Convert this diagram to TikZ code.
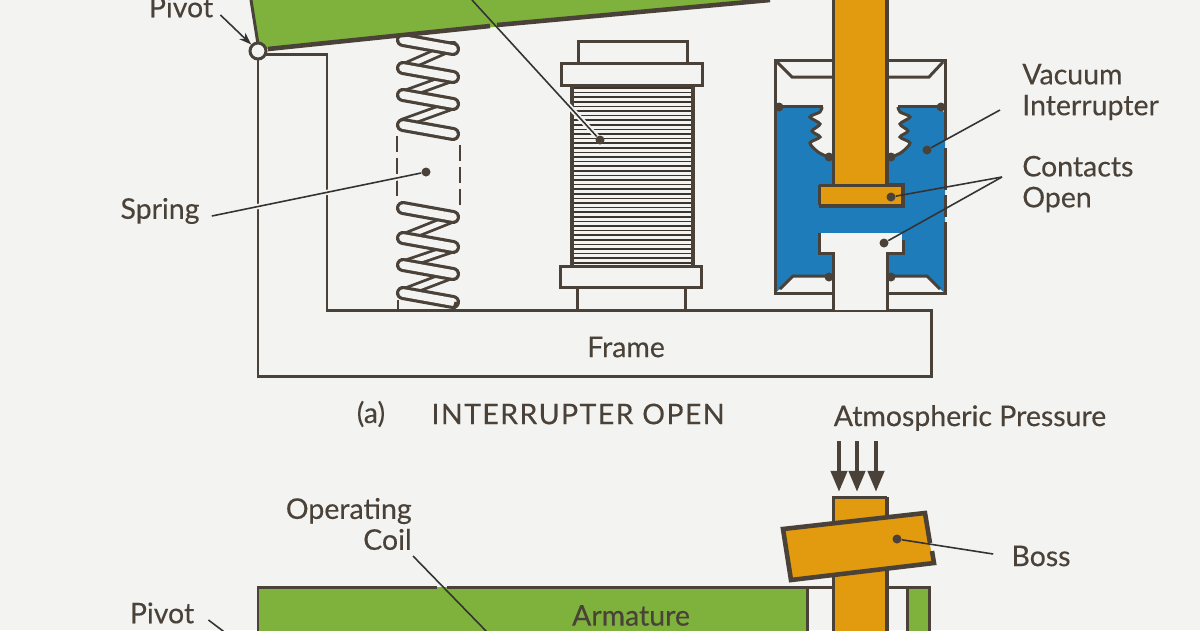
\documentclass[tikz,border=0pt]{standalone}
\usepackage{fontspec}
\setmainfont[FakeBold=0.3]{Lato}
\usetikzlibrary{arrows.meta,calc}

\definecolor{paperc}{HTML}{F3F3F1}
\definecolor{inkc}{HTML}{4A4238}
\definecolor{armgreen}{HTML}{7FB23C}
\definecolor{rodorange}{HTML}{E29A0E}
\definecolor{vacblue}{HTML}{1F7CBA}

\tikzset{
  part/.style={draw=inkc, line width=1.7pt, line join=miter},
  thickpart/.style={draw=inkc, line width=2.6pt},
  leader/.style={draw=black!80, line width=0.9pt},
  halo/.style={draw=paperc, line width=3pt},
  labeltext/.style={text=inkc, inner sep=0pt, font=\fontsize{16.2}{17.6}\selectfont},
  leaderdot/.style={circle, fill=inkc, inner sep=0pt, minimum size=0.18cm},
  wireout/.style={draw=inkc, line width=8pt, line cap=round},
  wirein/.style={draw=paperc, line width=4.4pt, line cap=round},
  backout/.style={draw=inkc, line width=6pt, line cap=round},
  backin/.style={draw=paperc, line width=2.8pt, line cap=round},
}

\begin{document}
\begin{tikzpicture}[x=0.02cm, y=-0.02cm]

\clip (0,0) rectangle (1200,630);
\fill[paperc] (0,0) rectangle (1200,630);

% ================= (a): FRAME =================
\draw[part] (258,51) -- (258,376) -- (931,376) -- (931,310) -- (327,310) -- (327,54) -- (266,54);
\node[labeltext] (lblFrame) at (626,347) {Frame};

% ================= (a): SPRING =================
\begin{scope}
\clip (385,25) rectangle (470,309);
% back strands
\foreach \ya/\yb in {46/68, 77/95, 105/123, 218/238, 248/265, 274/293} {
  \draw[backout] (453,\ya) -- (403,\yb);
  \draw[backin] (453,\ya) -- (403,\yb);
}
% front coils
\foreach \y in {40,68,95,125,208,238,265,293} {
  \draw[wireout] (403,\y) -- (453,\y+9);
  \draw[wirein] (403,\y) -- (453,\y+9);
}
\draw[part] (398,300) -- (398,309);
\draw[part] (456,302) -- (454,309);
\end{scope}
\draw[part, dashed, dash pattern=on 9pt off 3.5pt] (397,136) -- (397,200);
\draw[part, dashed, dash pattern=on 9pt off 3.5pt] (460,145) -- (460,210);

% ================= (a): COIL =================
\draw[part] (578,62) -- (578,41) -- (687,41) -- (687,62);
\draw[part] (561,63) rectangle (702,85);
\foreach \y in {88,92.6,...,264}
  \draw[draw=inkc!80!black, line width=1pt] (571,\y) -- (694,\y);
\draw[thickpart] (572,85) -- (572,266);
\draw[thickpart] (693,85) -- (693,266);
\draw[part] (560,266) rectangle (701,287);
\draw[part] (577,287) -- (577,310);
\draw[part] (685,287) -- (685,310);

% leader halo goes under the armature
\coordinate (coilTop) at (472,0);
\node[leaderdot] (dotCoil) at (600,140) {};
\draw[halo] (coilTop) -- (dotCoil);

% ================= (a): ARMATURE =================
\fill[armgreen] (251,0) -- (258,46) -- (268,49) -- (770,0) -- cycle;
\draw[part] (251,0) -- (258,44);
\draw[thickpart] (268,49) -- (490,26);
\draw[thickpart] (497,25) -- (770,0);
\draw[leader] (coilTop) -- (dotCoil);

\node[circle, draw=inkc, line width=1.7pt, fill=paperc, inner sep=0pt, minimum size=0.32cm] (pivotA) at (258,51) {};
\node[labeltext] (lblPivotA) at (181,7) {Pivot};
\draw[leader, -{Stealth[length=7pt,width=5pt]}] ([shift={(7,8)}]lblPivotA.east) -- (pivotA);

% ================= (a): INTERRUPTER =================
\fill[vacblue] (775,113) -- (783,106) -- (937,106) -- (945,113) -- (945,293) -- (940,289) -- (927,276)
  -- (793,276) -- (780,289) -- (775,293) -- cycle;

% bellows gaps
\fill[paperc] plot[smooth] coordinates {(822,105) (820,112) (810,117) (820,124) (812,131) (820,137) (810,143) (818,152) (826,156)}
  -- (833,160) -- (833,104) -- cycle;
\fill[paperc] plot[smooth] coordinates {(898,105) (900,112) (910,117) (900,124) (908,131) (900,137) (910,143) (902,152) (894,156)}
  -- (887,160) -- (887,104) -- cycle;
\draw[part] plot[smooth] coordinates {(822,107) (820,112) (810,117) (820,124) (812,131) (820,137) (810,143) (818,152) (826,156)};
\draw[part] plot[smooth] coordinates {(898,107) (900,112) (910,117) (900,124) (908,131) (900,137) (910,143) (902,152) (894,156)};
\draw[part] (783,106) -- (823,106);
\draw[part] (898,106) -- (937,106);

% joints
\foreach \x/\y in {779/107, 941/107, 829/157, 891/157, 829/277, 891/277}
  \fill[inkc] (\x,\y) circle (4.5);

% shell
\draw[part] (833,60) -- (775,60) -- (775,293) -- (833,293);
\draw[part] (887,60) -- (945,60) -- (945,140);
\draw[part] (945,148) -- (945,190);
\draw[part] (945,195) -- (945,217);
\draw[part] (945,222) -- (945,293) -- (887,293);
\draw[part] (777,62) -- (792,77) -- (833,77);
\draw[part] (943,62) -- (929,77) -- (887,77);
\draw[part] (780,289) -- (793,276) -- (829,276);
\draw[part] (940,289) -- (927,276) -- (891,276);

% contacts and rod
\fill[rodorange] (833,-2) rectangle (887,186);
\fill[rodorange] (819,185) rectangle (902,205);
\draw[part] (833,0) -- (833,185);
\draw[thickpart] (887,0) -- (887,185);
\draw[part] (819,185) -- (887,185);
\draw[part] (819,185) -- (819,205);
\draw[thickpart] (819,206) -- (903,206) -- (903,185) -- (887,185);
\fill[paperc] (819,233) rectangle (902,253);
\fill[paperc] (833,250) rectangle (887,310);
\draw[part] (819,233) -- (819,253) -- (833,253) -- (833,310);
\draw[part] (887,310) -- (887,253) -- (903,253) -- (903,240);

% ================= (a): LABELS =================
\node[labeltext, anchor=west, align=left] (lblVacuum) at (1022,92) {Vacuum\\Interrupter};
\node[labeltext, anchor=west, align=left] (lblContacts) at (1022,184) {Contacts\\Open};
\node[labeltext] (lblSpring) at (160,211) {Spring};
\node[leaderdot] (dotSpring) at (426,172) {};
\node[leaderdot] (dotVacuum) at (927,150) {};
\node[leaderdot] (dotContactA) at (891,197) {};
\node[leaderdot] (dotContactB) at (884,243) {};
\draw[halo] ([shift={(12,5)}]lblSpring.east) -- (dotSpring);
\draw[leader] ([shift={(12,5)}]lblSpring.east) -- (dotSpring);
\draw[leader] ([shift={(-22,18)}]lblVacuum.west) -- (dotVacuum);
\draw[leader] ([shift={(-20,-7)}]lblContacts.west) -- (dotContactA);
\draw[leader] ([shift={(-20,-7)}]lblContacts.west) -- (dotContactB);

\node[labeltext] (lblCaptionA) at (371,414) {(a)};
\node[labeltext] (lblCaptionB) at (578,414) {\addfontfeatures{LetterSpace=5}INTERRUPTER OPEN};
\node[labeltext] (lblPressure) at (970,418) {Atmospheric Pressure};

% ================= (b): PRESSURE ARROWS =================
\foreach \x [count=\i] in {839,857,876} {
  \coordinate (pressTop\i) at (\x,441);
  \coordinate (pressTip\i) at (\x,492);
  \draw[draw=inkc, line width=2.6pt, -{Stealth[length=12pt,width=9pt,inset=0pt]}] (pressTop\i) -- (pressTip\i);
}

% ================= (b): ARMATURE =================
\fill[armgreen] (258,587) rectangle (807,632);
\fill[armgreen] (907,587) rectangle (929,632);
\draw[part] (258,632) -- (258,587) -- (437,587);
\draw[part] (447,587) -- (929,587) -- (929,632);
\draw[part] (807,587) -- (807,632);
\draw[part] (907,587) -- (907,632);
\node[labeltext] (lblArmature) at (631,615.5) {Armature};

% ================= (b): ROD AND BOSS =================
\fill[rodorange] (833,497) rectangle (887,632);
\draw[part] (833,632) -- (833,497) -- (887,497);
\draw[thickpart] (887,497) -- (887,632);
\fill[rodorange] (783,529) -- (925,513) -- (933,563) -- (791,580) -- cycle;
\draw[thickpart] (930,543) -- (925,513) -- (783,529) -- (791,580) -- (934,563) -- (932,551);

\node[labeltext] (lblBoss) at (1041,556) {Boss};
\node[leaderdot] (dotBoss) at (897,539) {};
\draw[leader] ([shift={(-18,-2)}]lblBoss.west) -- (dotBoss);

% ================= (b): LABELS =================
\node[labeltext, anchor=east, align=right] (lblOpCoil) at (412,524) {Operating\\Coil};
\coordinate (coilLow) at (487,632);
\draw[leader] ([shift={(1,32)}]lblOpCoil.east) -- (coilLow);
\node[labeltext] (lblPivotB) at (162,613) {Pivot};
\coordinate (pivotLow) at (227,634);
\draw[leader] ([shift={(14,7)}]lblPivotB.east) -- (pivotLow);

\end{tikzpicture}
\end{document}
